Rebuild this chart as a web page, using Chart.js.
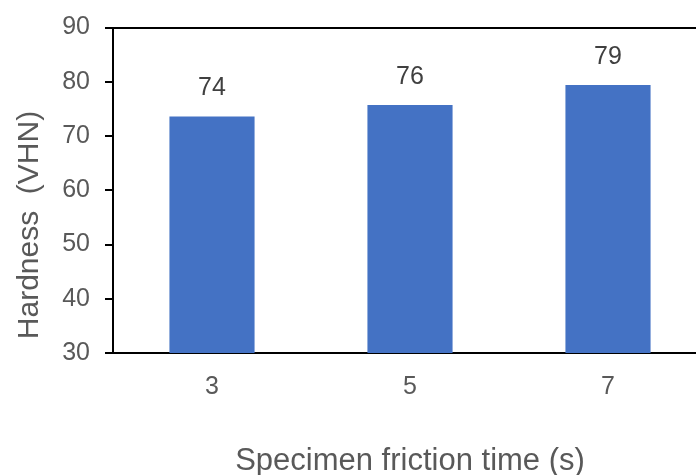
<!DOCTYPE html>
<html>
<head>
<meta charset="utf-8">
<script src="https://cdn.jsdelivr.net/npm/chart.js@4/dist/chart.umd.min.js"></script>
<style>
    html, body { margin: 0; padding: 0; background: #fff; overflow: hidden; }
    #wrap { position: relative; width: 720px; height: 475px; }
</style>
</head>
<body>
<div id="wrap"><canvas id="chart"></canvas></div>
<script>
// Chart data
const frictionTimes = ['3', '5', '7'];
const hardness = [73.6, 75.7, 79.4];
const hardnessLabels = ['74', '76', '79'];
const yTicks = [30, 40, 50, 60, 70, 80, 90];

const FONT = '"Liberation Sans", Arial, sans-serif';
const TEXT = '#595959';

// Draws the rounded value above each bar
const valueLabels = {
    id: 'valueLabels',
    afterDatasetsDraw(chart) {
        const ctx = chart.ctx;
        const meta = chart.getDatasetMeta(0);
        ctx.save();
        ctx.font = '25px ' + FONT;
        ctx.fillStyle = '#404040';
        ctx.textAlign = 'center';
        ctx.textBaseline = 'middle';
        meta.data.forEach((bar, i) => {
            ctx.fillText(hardnessLabels[i], bar.x, bar.y - 28);
        });
        ctx.restore();
    }
};

// The y title sits lower than the centre of the axis in the reference
const yTitle = {
    id: 'yTitle',
    afterDraw(chart) {
        const ctx = chart.ctx;
        ctx.save();
        ctx.translate(30, 225);
        ctx.rotate(-Math.PI / 2);
        ctx.font = '30px ' + FONT;
        ctx.fillStyle = TEXT;
        ctx.textAlign = 'center';
        ctx.textBaseline = 'middle';
        ctx.fillText('Hardness  (VHN)', 0, 0);
        ctx.restore();
    }
};

new Chart(document.getElementById('chart'), {
    type: 'bar',
    data: {
        labels: frictionTimes,
        datasets: [{
            data: hardness,
            backgroundColor: '#4472C4',
            borderWidth: 0,
            categoryPercentage: 1,
            barPercentage: 0.43
        }]
    },
    options: {
        responsive: true,
        maintainAspectRatio: false,
        animation: false,
        devicePixelRatio: 1,
        layout: { padding: { left: 0, right: 13, top: 27, bottom: 0 } },
        plugins: {
            legend: { display: false },
            tooltip: { enabled: false }
        },
        scales: {
            x: {
                grid: { display: false, drawTicks: false },
                border: { display: true, color: '#000', width: 2 },
                ticks: { color: TEXT, font: { family: FONT, size: 25 }, padding: 19 },
                title: {
                    display: true,
                    text: 'Specimen friction time (s)',
                    color: TEXT,
                    font: { family: FONT, size: 31, lineHeight: 0.9 },
                    padding: { top: 0, bottom: 0 }
                },
                afterFit(scale) { scale.height = 122; }
            },
            y: {
                min: 30,
                max: 90,
                afterBuildTicks(scale) {
                    scale.ticks = yTicks.map(v => ({ value: v }));
                },
                grid: {
                    color: c => (c.tick && c.tick.value === 90) ? '#000' : 'rgba(0,0,0,0)',
                    tickColor: '#000',
                    lineWidth: 2,
                    tickLength: 8,
                    drawTicks: true
                },
                border: { display: true, color: '#000', width: 2 },
                ticks: { color: TEXT, font: { family: FONT, size: 25, lineHeight: 1 }, padding: 15 },
                afterFit(scale) { scale.width = 113; }
            }
        }
    },
    plugins: [valueLabels, yTitle]
});
</script>
</body>
</html>
